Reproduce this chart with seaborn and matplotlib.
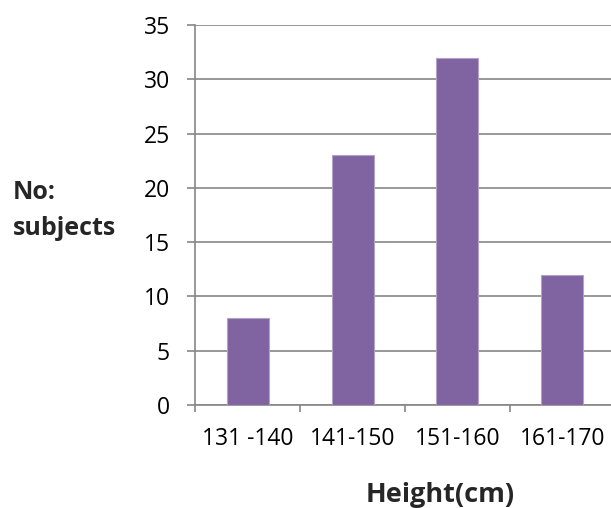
import matplotlib
matplotlib.use("Agg")
import matplotlib.pyplot as plt
from matplotlib.ticker import FixedLocator, MultipleLocator
import seaborn as sns
import pandas as pd

# Height distribution of subjects
height_groups = ["131 -140", "141-150", "151-160", "161-170"]
subject_counts = [8, 23, 32, 12]

df = pd.DataFrame({"group": height_groups, "count": subject_counts})

sns.set_theme(style="white")
plt.rcParams["font.family"] = ["Open Sans", "DejaVu Sans"]

W, H = 611, 508
fig = plt.figure(figsize=(W / 100, H / 100), dpi=100)
# plot area runs slightly past the right edge of the canvas
ax = fig.add_axes([195 / W, (H - 405) / H, 420 / W, 380 / H])

sns.barplot(data=df, x="group", y="count", color="#8064A2", width=0.4,
            saturation=1, edgecolor="#B3A2C7", linewidth=0.8, ax=ax, zorder=3)

ax.set_xlim(-0.5, len(height_groups) - 0.5)
ax.set_ylim(0, 35)
ax.yaxis.set_major_locator(MultipleLocator(5))
ax.yaxis.grid(True, color="#868686", linewidth=1.2, zorder=0)
ax.set_axisbelow(True)

for s in ["top", "right"]:
    ax.spines[s].set_visible(False)
for s in ["left", "bottom"]:
    ax.spines[s].set_color("#868686")
    ax.spines[s].set_linewidth(1.2)

# ticks at category boundaries on x, outward ticks on y
ax.xaxis.set_major_locator(FixedLocator([i - 0.5 for i in range(len(height_groups) + 1)]))
ax.xaxis.set_minor_locator(FixedLocator(list(range(len(height_groups)))))
ax.set_xticklabels([])
ax.set_xticklabels(height_groups, minor=True)
ax.tick_params(axis="x", which="major", direction="out", length=5, width=1.2,
               color="#868686", bottom=True)
ax.tick_params(axis="x", which="minor", length=0, pad=16, labelsize=16.5,
               labelcolor="black")
ax.tick_params(axis="y", direction="out", length=6, width=1.2, color="#868686",
               left=True, labelsize=16.5, labelcolor="black", pad=12)

ax.set_xlabel("")
ax.set_ylabel("")

fig.text(13 / W, 1 - 199 / H, "No:", fontsize=18, fontweight="bold",
         ha="left", va="baseline")
fig.text(13 / W, 1 - 235 / H, "subjects", fontsize=18, fontweight="bold",
         ha="left", va="baseline")
fig.text(366 / W, 1 - 502 / H, "Height(cm)", fontsize=19.5, fontweight="bold",
         ha="left", va="baseline")

fig.savefig("out.png", dpi=100)
